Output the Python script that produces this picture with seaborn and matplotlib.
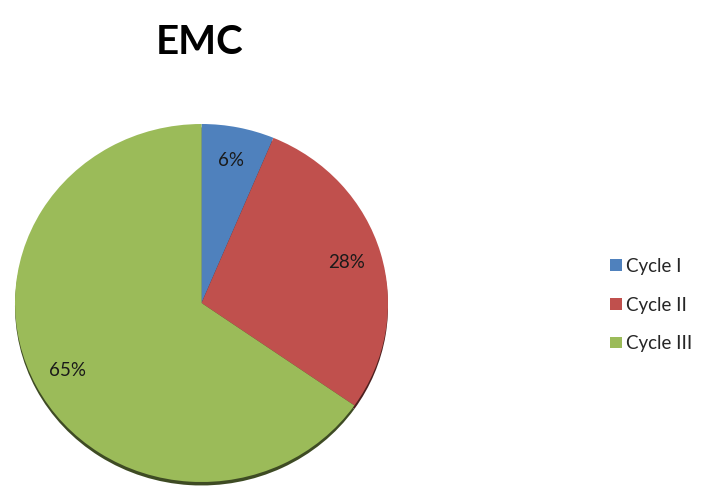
import matplotlib
matplotlib.use("Agg")
import matplotlib.pyplot as plt
import seaborn as sns
from matplotlib.patches import Patch

categories = ["Cycle I", "Cycle II", "Cycle III"]
values = [6.3, 28.4, 65.3]
colors = ["#4F81BD", "#C0504D", "#9BBB59"]
title = "EMC"

sns.set_style("white")
plt.rcParams['font.family'] = ['Lato', 'DejaVu Sans']

fig = plt.figure(figsize=(7.03, 4.88), dpi=100)
W, H = 703, 488
cx, cy, rx, ry = 201.5, 303, 186.5, 179
ax = fig.add_axes([(cx - rx) / W, (H - cy - ry) / H, 2 * rx / W, 2 * ry / H])

wedges, texts, autotexts = ax.pie(
    values, colors=colors, startangle=90, counterclock=False,
    autopct='%.0f%%', pctdistance=0.81,
    shadow={'ox': 0.0, 'oy': -0.014, 'shade': 0.6, 'alpha': 1.0},
    wedgeprops=dict(linewidth=0),
    textprops=dict(fontsize=13.5, color='#1a1a1a'))
ax.set_xlim(-1, 1)
ax.set_ylim(-1, 1)
ax.set_aspect('auto')
ax.axis('off')

fig.text(200 / W, 1 - 42 / H, title, ha='center', va='center',
         fontsize=29, fontweight='bold', color='black')

handles = [Patch(facecolor=c, edgecolor='none', label=l) for c, l in zip(colors, categories)]
fig.legend(handles=handles, loc='center left', bbox_to_anchor=(601 / W, 1 - 305 / H),
           frameon=False, fontsize=13.5, handlelength=0.6, handleheight=0.6,
           handletextpad=0.25, labelspacing=1.15, borderpad=0)

fig.savefig("out.png", dpi=100, facecolor='white')
